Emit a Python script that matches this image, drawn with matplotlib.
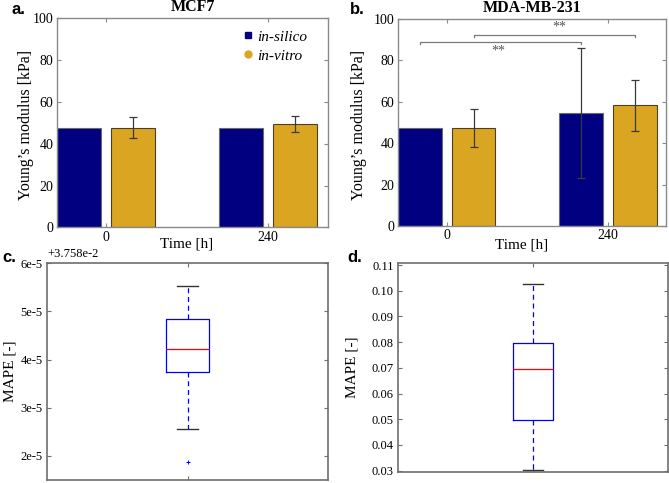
import numpy as np
import matplotlib
matplotlib.use("Agg")
import matplotlib.pyplot as plt
from matplotlib.lines import Line2D

# ---------------- data ----------------
time_labels = ["0", "240"]
series_names = ["in-silico", "in-vitro"]

mcf7_silico = [47.5, 47.5]
mcf7_vitro = [47.5, 49.3]
mcf7_vitro_err_lo = [4.9, 3.6]
mcf7_vitro_err_hi = [5.1, 3.8]

mda_silico = [47.5, 54.4]
mda_silico_err_lo = [0.0, 31.4]
mda_silico_err_hi = [0.0, 31.4]
mda_vitro = [47.2, 58.3]
mda_vitro_err_lo = [9.2, 12.3]
mda_vitro_err_hi = [9.2, 12.1]

sig_heights = [88.7, 92.3]          # bracket heights (in-silico pair, in-vitro pair)
sig_labels = ["**", "**"]

c_offset = 3.758e-2
c_med = 4.23e-5
c_q1 = 3.74e-5
c_q3 = 4.85e-5
c_whislo = 2.55e-5
c_whishi = 5.52e-5
c_fliers = [1.87e-5]
c_ticks = [2e-5, 3e-5, 4e-5, 5e-5, 6e-5]
c_ticklabels = ["2e-5", "3e-5", "4e-5", "5e-5", "6e-5"]

d_med = 0.0696
d_q1 = 0.0499
d_q3 = 0.0798
d_whislo = 0.0301
d_whishi = 0.1025
d_ticks = [0.03, 0.04, 0.05, 0.06, 0.07, 0.08, 0.09, 0.10, 0.11]
d_ticklabels = ["0.03", "0.04", "0.05", "0.06", "0.07", "0.08", "0.09", "0.10", "0.11"]

# ---------------- style ----------------
SERIF = ["Liberation Serif", "DejaVu Serif"]
SANS = ["Liberation Sans", "DejaVu Sans"]
plt.rcParams["font.family"] = SERIF
plt.rcParams["mathtext.fontset"] = "stix"

NAVY = "#000080"
GOLD = "#DAA520"
SPINE = "#8a8a8a"

W, H = 669, 483
fig = plt.figure(figsize=(W / 100, H / 100), dpi=100)


def px_axes(l, t, r, b):
    return fig.add_axes([l / W, 1 - b / H, (r - l) / W, (b - t) / H])


def style_axes(ax, spine_col=SPINE, lw=1.0, tick_fs=10, pad=3):
    for s in ax.spines.values():
        s.set_color(spine_col)
        s.set_linewidth(lw)
    ax.tick_params(direction="in", length=3, width=0.8, color=spine_col,
                   top=True, right=True, labelsize=tick_fs, pad=pad)


bar_w = 0.27
off = 0.167


def bar_panel(ax, silico, vitro, s_lo, s_hi, v_lo, v_hi, title, xl_right,
              xlab_xy, ylab_xy):
    x = np.arange(len(time_labels))
    ax.bar(x - off, silico, bar_w, color=NAVY, edgecolor="#6a6a6a", linewidth=0.8,
           zorder=2)
    ax.bar(x + off, vitro, bar_w, color=GOLD, edgecolor="#4d4020", linewidth=0.8,
           zorder=2)
    if s_lo is not None:
        sl = np.array(s_lo); sh = np.array(s_hi)
        m = (sl + sh) > 0
        ax.errorbar((x - off)[m], np.array(silico)[m], yerr=[sl[m], sh[m]],
                    fmt="none", ecolor="#3a3a3a", elinewidth=0.9, capsize=3,
                    capthick=0.9, zorder=3)
    ax.errorbar(x + off, vitro, yerr=[v_lo, v_hi], fmt="none", ecolor="#3a3a3a",
                elinewidth=0.9, capsize=3, capthick=0.9, zorder=3)
    ax.set_xlim(-(off + bar_w / 2), 1 + xl_right)
    ax.set_ylim(0, 100)
    ax.set_yticks([0, 20, 40, 60, 80, 100])
    ax.set_xticks(x)
    ax.set_xticklabels(time_labels)
    style_axes(ax, tick_fs=10, pad=2.5)
    ax.set_title(title, fontsize=11.5, fontweight="bold", pad=5)
    ax.set_xlabel("Time [h]", fontsize=11)
    ax.set_ylabel("Young\u2019s modulus [kPa]", fontsize=11.5)
    ax.xaxis.set_label_coords(*xlab_xy)
    ax.yaxis.set_label_coords(*ylab_xy)


# panel a
axa = px_axes(57, 18.3, 328, 227.3)
bar_panel(axa, mcf7_silico, mcf7_vitro, None, None, mcf7_vitro_err_lo,
          mcf7_vitro_err_hi, "MCF7", 0.37, (0.479, -0.051), (-0.085, 0.49))
handles = [Line2D([], [], marker="s", color=NAVY, linestyle="none", markersize=5),
           Line2D([], [], marker="o", color=GOLD, linestyle="none", markersize=5)]
leg = axa.legend(handles, series_names, loc="upper right",
                 bbox_to_anchor=(0.975, 1.01), frameon=False,
                 prop={"family": SERIF, "style": "italic", "size": 11},
                 handlelength=0.8, handletextpad=0.25, labelspacing=0.35)

# panel b
axb = px_axes(398, 19, 666, 226)
bar_panel(axb, mda_silico, mda_vitro, mda_silico_err_lo, mda_silico_err_hi,
          mda_vitro_err_lo, mda_vitro_err_hi, "MDA-MB-231", 0.36,
          (0.46, -0.058), (-0.116, 0.49))
pairs = [(0 - off, 1 - off), (0 + off, 1 + off)]
for (x0, x1), h, lab, above in zip(pairs, sig_heights, sig_labels, [False, True]):
    axb.plot([x0, x0, x1, x1], [h - 1.0, h, h, h - 1.0], color="#7a7a7a", lw=0.9,
             zorder=4)
    xm = (x0 + x1) / 2
    if above:
        axb.text(xm + 0.03, h + 0.8, lab, ha="center", va="bottom", fontsize=10,
                 color="#555555")
    else:
        axb.text(xm - 0.01, h - 1.2, lab, ha="center", va="top", fontsize=10,
                 color="#555555")

# box panels
BOX_C = "#0000FF"


def box_panel(ax, stats, width):
    ax.bxp([stats], positions=[1], widths=width, showfliers=True,
           boxprops=dict(color=BOX_C, linewidth=0.9),
           whiskerprops=dict(color=BOX_C, linewidth=0.9, linestyle=(0, (4, 3))),
           capprops=dict(color="#333333", linewidth=1.0),
           medianprops=dict(color="#FF0000", linewidth=0.9),
           flierprops=dict(marker="+", markeredgecolor=BOX_C, markersize=3,
                           markeredgewidth=0.7),
           manage_ticks=False)
    ax.set_xlim(0.5, 1.5)
    ax.set_xticks([1])
    ax.set_xticklabels([""])
    style_axes(ax, spine_col="#6e6e6e", lw=1.2, tick_fs=9, pad=3)
    ax.set_ylabel("MAPE [-]", fontsize=11)


axc = px_axes(47, 263.3, 328, 480)
stats_c = dict(med=c_offset + c_med, q1=c_offset + c_q1, q3=c_offset + c_q3,
               whislo=c_offset + c_whislo, whishi=c_offset + c_whishi,
               fliers=[c_offset + f for f in c_fliers])
box_panel(axc, stats_c, 0.15)
axc.set_ylim(c_offset + 1.5e-5, c_offset + 6.0e-5)
axc.set_yticks([c_offset + t for t in c_ticks])
axc.set_yticklabels(c_ticklabels)
axc.yaxis.set_label_coords(-0.11, 0.5)
axc.text(0.0, 1.015, "+3.758e-2", transform=axc.transAxes, ha="left",
         va="bottom", fontsize=9)

axd = px_axes(398, 263, 668, 471.7)
stats_d = dict(med=d_med, q1=d_q1, q3=d_q3, whislo=d_whislo, whishi=d_whishi,
               fliers=[])
box_panel(axd, stats_d, 0.148)
axd.set_ylim(0.0296, 0.1108)
axd.set_yticks(d_ticks)
axd.set_yticklabels(d_ticklabels)
axd.yaxis.set_label_coords(-0.148, 0.5)

# panel letters
for lab, xp, yp in [("a.", 12, 13.5), ("b.", 350, 13.5), ("c.", 2, 262),
                    ("d.", 347, 262)]:
    fig.text(xp / W, 1 - yp / H, lab, fontsize=12, fontweight="bold",
             family=SANS, ha="left", va="baseline")

fig.savefig("out.png", dpi=100)
